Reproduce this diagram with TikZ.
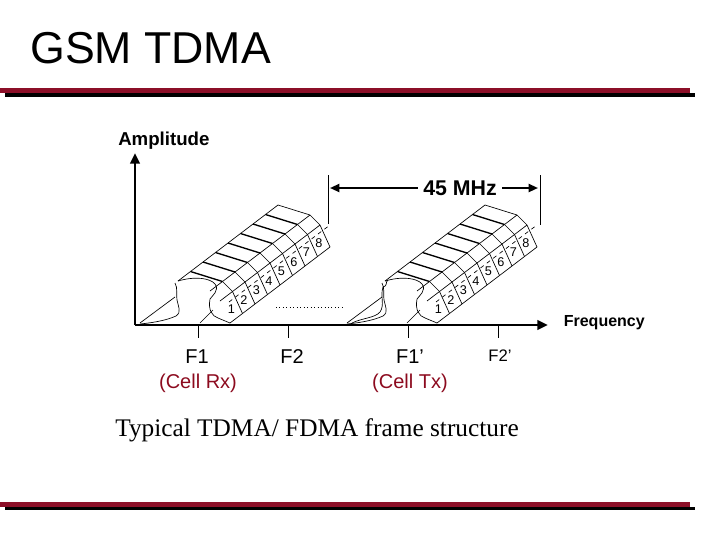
\documentclass[tikz,border=0pt]{standalone}
\usepackage{fontspec}
\setmainfont{Liberation Sans}
\newfontfamily\timesf{Liberation Serif}
\usetikzlibrary{arrows.meta}
\definecolor{barred}{HTML}{8C0F28}
\definecolor{txtred}{HTML}{8C0A1E}
\begin{document}
\begin{tikzpicture}[x=0.75pt,y=-0.75pt,
  thin line/.style={line width=0.5pt},
  axis line/.style={line width=2.2pt},
  lbl/.style={inner sep=0pt,font=\fontsize{9.5}{10}\selectfont}]
\useasboundingbox (0,0) rectangle (720,540);
\fill[barred] (0,88) rectangle (690,93);
\fill[black] (5,93) rectangle (695,97);
\fill[barred] (0,502) rectangle (690,507);
\fill[black] (5,507) rectangle (695,510);
\node[anchor=west,inner sep=0pt,font=\fontsize{33.5}{35}\selectfont] (title) at (30,48) {GSM TDMA};
% axes
\coordinate (o) at (135,325);
\coordinate (ytop) at (135,153);
\coordinate (xend) at (548,325);
\draw[axis line,-{Triangle[length=8pt,width=7pt]}] (o) -- (ytop);
\draw[axis line,-{Triangle[length=8pt,width=7pt]}] (o) -- (xend);
\node[anchor=west,inner sep=0pt,font=\bfseries\fontsize{14}{15}\selectfont] (amp) at (118,141) {Amplitude};
\node[anchor=east,inner sep=0pt,font=\bfseries\fontsize{12}{13}\selectfont] (freq) at (645,323) {Frequency};
\foreach \x/\n in {198/t1,288/t2,408/t3,498/t4}{
  \coordinate (\n a) at (\x,325); \coordinate (\n b) at (\x,338);
  \draw[line width=0.7pt] (\n a) -- (\n b);}
% 45 MHz
\coordinate (ml1) at (328,175); \coordinate (ml2) at (328,224);
\coordinate (mr1) at (540,175); \coordinate (mr2) at (540,225);
\draw[line width=0.7pt] (ml1) -- (ml2);
\draw[line width=0.7pt] (mr1) -- (mr2);
\node[inner sep=4pt,font=\bfseries\fontsize{16}{17}\selectfont] (mhz) at (460,188) {45 MHz};
\coordinate (al) at (330,188); \coordinate (ar) at (538,188);
\draw[line width=1.5pt,-{Triangle[length=7pt,width=6pt]}] (mhz.west) -- (al);
\draw[line width=1.5pt,-{Triangle[length=7pt,width=6pt]}] (mhz.east) -- (ar);
% dotted
\coordinate (d1) at (276,307); \coordinate (d2) at (343,307);
\draw[dotted,line width=0.6pt] (d1) -- (d2);
% prisms
\foreach \ox in {0,207}{
\begin{scope}[shift={(\ox*0.75pt,0)}]
  \draw[thin line] (178,281) -- (278,205) -- (310,215) -- (320,225) -- (330,247) -- (230,323);
  \draw[thin line] (210,291) -- (310,215);
  \draw[thin line] (220,301) -- (320,225);
  \draw[thin line] (178,281) .. controls (195,276) and (210,278) .. (215,284)
     .. controls (220,290) and (212,296) .. (210,299)
     .. controls (208,310) and (212,316) .. (218,318) -- (230,323);
  \draw[thin line,dash pattern=on 3pt off 3pt] (229,302) -- (318,234) -- (330,225);
  \foreach \k in {1,...,8}{
    \pgfmathsetmacro\dx{12.5*\k}\pgfmathsetmacro\dy{-9.5*\k}
    \ifnum\k<8
    \draw[line width=1pt] (178+\dx,281+\dy) -- (210+\dx,291+\dy);
    \draw[thin line] (210+\dx,291+\dy) -- (220+\dx,301+\dy) -- (230+\dx,323+\dy);
    \fi
    \pgfmathsetmacro\nx{222+12.5*\k-3}\pgfmathsetmacro\ny{316-9.5*\k+3}
    \node[lbl] (n\ox-\k) at (\nx,\ny) {\k};
  }
  \draw[thin line] (175,283) .. controls (178,288) and (176,295) .. (177,300)
     .. controls (178,306) and (182,312) .. (176,316)
     .. controls (165,321) and (150,323) .. (140,324);
  \draw[thin line] (140,323) -- (175,297);
  \draw[thin line] (200,323) -- (213,310);
\end{scope}}
\draw[thin line] (352,323) .. controls (362,318) and (375,318) .. (380,312)
  .. controls (385,305) and (380,296) .. (383,287)
  .. controls (388,286) and (385,282) .. (388,280);
% lower labels
\node[inner sep=0pt,font=\fontsize{15}{16}\selectfont] (f1) at (197,357) {F1};
\node[inner sep=0pt,font=\fontsize{15}{16}\selectfont] (f2) at (292,357) {F2};
\node[inner sep=0pt,font=\fontsize{15}{16}\selectfont] (f1p) at (410,357) {F1’};
\node[inner sep=0pt,font=\fontsize{12.5}{13}\selectfont] (f2p) at (500,356) {F2’};
\node[inner sep=0pt,text=txtred,font=\fontsize{15}{16}\selectfont] (rx) at (198,383) {(Cell Rx)};
\node[inner sep=0pt,text=txtred,font=\fontsize{15}{16}\selectfont] (tx) at (410,383) {(Cell Tx)};
\node[inner sep=0pt,font=\timesf\fontsize{19}{20}\selectfont] (cap) at (317,430) {Typical TDMA/ FDMA frame structure};
\end{tikzpicture}
\end{document}
